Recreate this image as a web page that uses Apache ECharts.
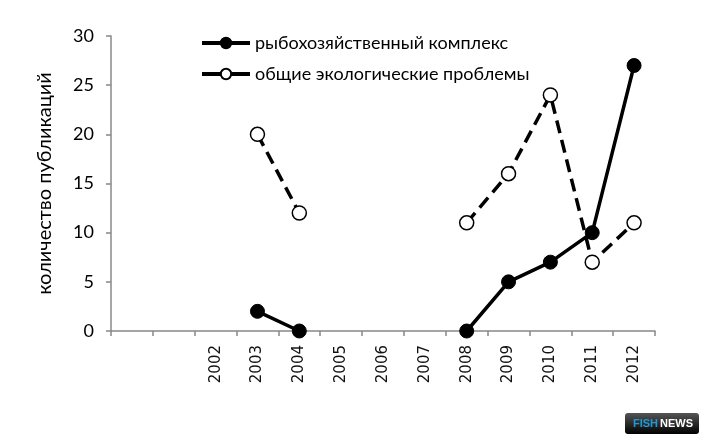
<!DOCTYPE html>
<html><head><meta charset="utf-8">
<script src="https://cdn.jsdelivr.net/npm/echarts@6/dist/echarts.min.js"></script>
<style>html,body{margin:0;padding:0;background:#fff}#c{width:709px;height:445px}</style>
</head><body><div id="c"></div>
<script>
const categories = ['2000','2001','2002','2003','2004','2005','2006','2007','2008','2009','2010','2011','2012'];
const hiddenLabels = ['2000','2001'];
const fisheryName = 'рыбохозяйственный комплекс';
const fishery = [null, null, null, 2, 0, null, null, null, 0, 5, 7, 10, 27];
const ecologyName = 'общие экологические проблемы';
const ecology = [null, null, null, 20, 12, null, null, null, 11, 16, 24, 7, 11];
const yName = 'количество публикаций';

const chart = echarts.init(document.getElementById('c'), null, {renderer:'canvas'});
chart.setOption({
  animation:false,
  backgroundColor:'#fff',
  grid:{left:111, right:54, top:36, bottom:114},
  legend:{
    orient:'vertical', left:195, top:29, itemGap:13, itemWidth:48, itemHeight:13,
    lineStyle:{width:4, type:'solid'},
    textStyle:{fontFamily:'Lato', fontSize:18, lineHeight:18, color:'#000'},
    data:[fisheryName, ecologyName]
  },
  xAxis:{
    type:'category', data:categories, boundaryGap:true,
    axisLine:{lineStyle:{color:'#888', width:1.5}},
    axisTick:{show:true, interval:0, length:5, lineStyle:{color:'#888', width:1.5}},
    axisLabel:{interval:0, rotate:90, margin:14, fontFamily:'DejaVu Sans', fontSize:15, color:'#111',
      formatter:v => hiddenLabels.includes(v) ? '' : v}
  },
  yAxis:{
    type:'value', min:0, max:30, interval:5,
    name:yName, nameLocation:'middle', nameGap:56, nameRotate:90,
    nameTextStyle:{fontFamily:'Lato', fontSize:20, color:'#000'},
    axisLine:{show:true, lineStyle:{color:'#888', width:1.5}},
    axisTick:{show:true, length:5, lineStyle:{color:'#888', width:1.5}},
    splitLine:{show:false},
    axisLabel:{margin:17, fontFamily:'Lato', fontSize:18, color:'#000'}
  },
  series:[
    {name:fisheryName, type:'line', data:fishery, connectNulls:false,
     symbol:'circle', symbolSize:14, z:3,
     lineStyle:{color:'#000', width:3.5},
     itemStyle:{color:'#000', borderColor:'#000', borderWidth:1}},
    {name:ecologyName, type:'line', data:ecology, connectNulls:false,
     symbol:'circle', symbolSize:14, z:2,
     lineStyle:{color:'#000', width:3.5, type:[13,7]},
     itemStyle:{color:'#fff', borderColor:'#000', borderWidth:1.5}}
  ],
  graphic:[
    {type:'rect', shape:{x:625, y:413, width:74, height:21, r:3},
     style:{fill:new echarts.graphic.LinearGradient(0,0,0,1,[{offset:0,color:'#555'},{offset:1,color:'#000'}])}},
    {type:'text', x:633, y:418, style:{text:'FISH', fill:'#1e9ad8', font:'bold 11px Liberation Sans'}},
    {type:'text', x:660, y:418, style:{text:'NEWS', fill:'#fff', font:'bold 11px Liberation Sans'}}
  ]
});
</script></body></html>
